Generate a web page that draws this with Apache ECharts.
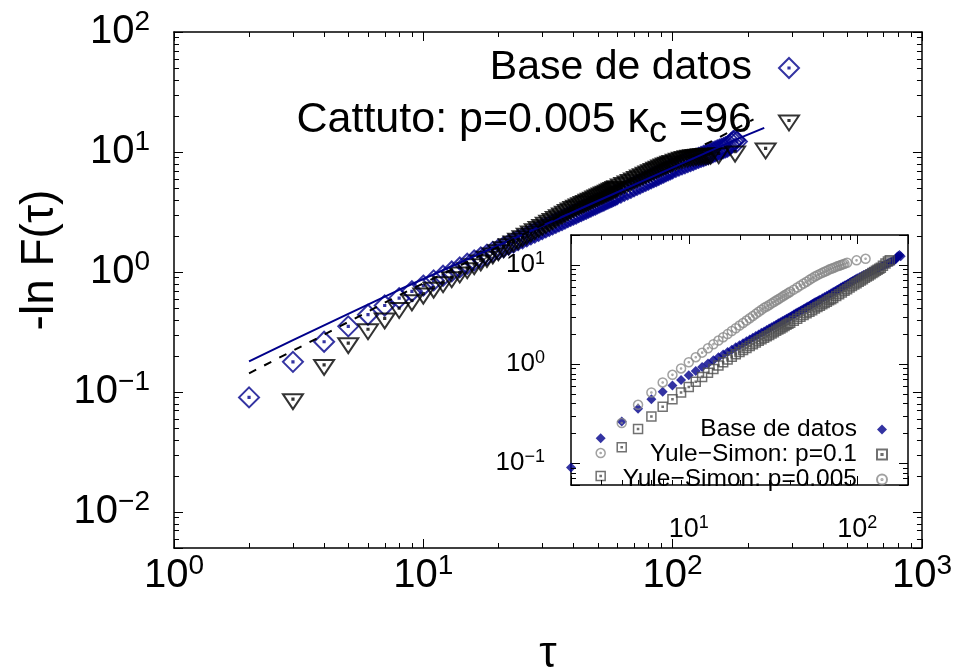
<!DOCTYPE html>
<html><head><meta charset="utf-8">
<script src="https://cdn.jsdelivr.net/npm/echarts@6/dist/echarts.min.js"></script>
<style>html,body{margin:0;padding:0;background:#fff}#c{width:955px;height:672px}</style>
</head><body><div id="c"></div><script>
// ---------- data ----------
const dbTau = [2,3,4,5,6,7,8,9,10,11,12,13,14,15,16,17,18,19,20,21,22,23,24,25,26,27,28,29,30,31,32,33,34,35,36,37,38,39,40,
  41,42,43,44,45,46,47,48,49,50,51,52,53,54,55,56,57,58,59,60,62,64,66,68,70,72,74,76,78,80,82,84,86,88,90,92,94,96,98,100,
  103,106,109,112,115,118,121,124,127,130,133,136,139,142,145,148,151,154,157,160,163,166,169,172,175,178,181];
const dbVal = [0.09,0.178,0.262,0.352,0.44,0.525,0.605,0.69,0.77,0.85,0.93,1.01,1.09,1.17,1.245,1.32,1.39,1.47,1.54,1.615,1.69,1.76,1.84,1.91,1.98,2.06,2.13,2.2,2.28,2.35,2.42,2.49,2.57,2.64,2.71,2.78,2.86,2.93,3.0,
  3.07,3.15,3.22,3.3,3.36,3.44,3.51,3.59,3.65,3.73,3.8,3.87,3.94,4.02,4.09,4.16,4.23,4.3,4.37,4.45,4.59,4.74,4.88,5.02,5.17,5.31,5.45,5.6,5.74,5.89,6.03,6.17,6.31,6.45,6.6,6.74,6.88,7.03,7.17,7.31,
  7.5,7.69,7.88,8.05,8.23,8.4,8.57,8.75,8.92,9.1,9.26,9.43,9.6,9.78,9.95,10.12,10.28,10.45,10.62,10.78,10.95,11.1,11.4,11.9,12.3,12.6,12.2];

const catTau = [3,4,5,6,7,8,9,10,11,12,13,14,15,16,17,18,19,20,21,22,23,24,25,26,27,28,29,30,31,32,33,34,35,36,37,38,39,40,
  41,42,43,44,45,46,47,48,49,50,51,52,53,54,55,56,57,58,59,60,62,64,66,68,70,72,74,76,78,80,82,84,86,88,90,92,94,96,98,100,
  103,106,109,112,115,118,121,124,127,130,133,136,139,142,153,178,236];
const catVal = [0.087,0.168,0.255,0.333,0.41,0.5,0.58,0.66,0.74,0.821,0.904,0.988,1.074,1.16,1.247,1.336,1.426,1.516,1.608,1.70,1.793,1.887,1.982,2.077,2.174,2.27,2.368,2.466,2.565,2.665,2.765,2.866,2.968,3.07,3.172,3.28,3.38,3.48,
  3.565,3.65,3.735,3.82,3.905,3.99,4.075,4.16,4.245,4.33,4.415,4.5,4.585,4.67,4.755,4.84,4.925,5.01,5.095,5.18,5.35,5.52,5.68,5.85,6.02,6.19,6.36,6.53,6.7,6.86,7.03,7.2,7.37,7.53,7.7,7.86,8.0,8.15,8.28,8.4,
  8.6,8.78,8.93,9.08,9.19,9.29,9.37,9.44,9.5,9.55,9.59,9.62,9.65,9.67,9.75,10.07,10.7];

const fitTau = [2,3,5,8,20,50,100,178,233];
const fitVal = [0.18,0.27,0.447,0.71,1.66,3.9,7.4,12.6,15.9];
const dashTau = [2,4,8,20,50,100,146,211];
const dashVal = [0.143,0.30,0.64,1.62,4.2,8.6,12.5,18.7];

const ys1Tau = [3,4,5,6,7,8,9,10,11,12,13,14,15,16,17,18,19,20,21,22,23,24,25,26,27,28,29,30,31,32,33,34,35,36,37,38,39,40,
  42,44,46,48,50,52,54,56,58,60,62,64,66,68,70,72,75,78,81,84,87,90,93,96,99,102,105,108,111,114,117,120,123,126,129,132,135,138,142,147,152,156];
const ys1Val = [0.074,0.144,0.22,0.295,0.37,0.44,0.515,0.585,0.66,0.74,0.815,0.89,0.965,1.04,1.11,1.18,1.25,1.32,1.385,1.45,1.514,1.58,1.643,1.71,1.772,1.84,1.9,1.96,2.03,2.09,2.156,2.22,2.284,2.35,2.41,2.48,2.54,2.6,
  2.73,2.86,2.99,3.11,3.24,3.37,3.49,3.62,3.75,3.87,4.0,4.13,4.25,4.38,4.5,4.63,4.84,5.05,5.26,5.47,5.68,5.89,6.1,6.32,6.53,6.74,6.96,7.17,7.39,7.61,7.82,8.04,8.26,8.48,8.7,8.92,9.14,9.36,9.8,10.3,10.8,11.1];

const ys2Tau = [3,4,5,6,7,8,9,10,11,12,13,14,15,16,17,18,19,20,21,22,23,24,25,26,27,28,29,30,31,32,33,34,35,36,37,38,39,40,
  42,44,46,48,50,52,54,56,58,60,62,64,66,68,70,72,74,76,78,80,82,84,87,99,112];
const ys2Val = [0.126,0.253,0.387,0.515,0.65,0.776,0.9,1.04,1.17,1.3,1.44,1.58,1.72,1.86,2.0,2.15,2.29,2.44,2.59,2.74,2.894,3.05,3.2,3.36,3.52,3.68,3.8,3.94,4.08,4.22,4.36,4.49,4.64,4.78,4.92,5.06,5.2,5.34,
  5.62,5.91,6.2,6.48,6.76,7.05,7.34,7.63,7.87,8.1,8.3,8.5,8.72,8.95,9.12,9.3,9.48,9.65,9.8,9.95,10.1,10.25,10.5,11.1,11.5];

const mainMinorX = [2,3,4,5,6,7,8,9,20,30,40,50,60,70,80,90,200,300,400,500,600,700,800,900];
const mainMinorY = [0.006,0.007,0.008,0.009,0.02,0.03,0.04,0.05,0.06,0.07,0.08,0.09,0.2,0.3,0.4,0.5,0.6,0.7,0.8,0.9,2,3,4,5,6,7,8,9,20,30,40,50,60,70,80,90];
const insetMinorX = [3,4,5,6,7,8,9,20,30,40,50,60,70,80,90];
const insetMinorY = [0.07,0.08,0.09,0.2,0.3,0.4,0.5,0.6,0.7,0.8,0.9,2,3,4,5,6,7,8,9];

const legendMain = ['Base de datos', 'Cattuto: p=0.005 κc =96'];
const legendInset = ['Base de datos ', 'Yule−Simon: p=0.1', 'Yule−Simon: p=0.005'];

// ---------- styling ----------
const FONT = "'Liberation Sans', Arial, Helvetica, sans-serif";
const NAVY = '#00008b';
const P_DIAMOND = 'path://M0,-1 L1,0 L0,1 L-1,0 Z M-0.06,-0.06 L0.06,-0.06 L0.06,0.06 L-0.06,0.06 Z';
const P_FDIAMOND = 'path://M0,-1 L1,0 L0,1 L-1,0 Z';
const P_TRI = 'path://M0,-1 M-1,-0.5 L1,-0.5 L0,1 Z M-0.06,-0.06 L0.06,-0.06 L0.06,0.06 L-0.06,0.06 Z';
const P_SQ = 'path://M-1,-1 L1,-1 L1,1 L-1,1 Z M-0.12,-0.12 L0.12,-0.12 L0.12,0.12 L-0.12,0.12 Z';
const P_CIR = 'path://M1,0 A1,1 0 1 1 -1,0 A1,1 0 1 1 1,0 Z M0.12,0 A0.12,0.12 0 1 1 -0.12,0 A0.12,0.12 0 1 1 0.12,0 Z';

function pow10Label(v) {
  const e = Math.log10(v);
  const r = Math.round(e);
  if (Math.abs(e - r) > 1e-6) return '';
  return '{b|10}{s|' + (r < 0 ? '−' + (-r) : r) + '}';
}
function labelStyle(fs, ss, lh, sl, margin) {
  return {
    show: true, margin: margin, color: '#000', fontFamily: FONT, fontSize: fs,
    formatter: pow10Label, showMinLabel: true, showMaxLabel: true,
    rich: {
      b: { fontFamily: FONT, fontSize: fs, lineHeight: lh, color: '#000' },
      s: { fontFamily: FONT, fontSize: ss, lineHeight: sl, verticalAlign: 'top', color: '#000' }
    }
  };
}
function logAxis(gridIndex, pos, min, max, label, tickLen) {
  return {
    type: 'log', logBase: 10, gridIndex, position: pos, min, max,
    axisLine: { show: true, onZero: false, lineStyle: { color: '#000', width: 1.5 } },
    axisTick: { show: true, inside: true, length: tickLen, lineStyle: { color: '#000', width: 1 } },
    axisLabel: label || { show: false },
    splitLine: { show: false }, minorTick: { show: false }
  };
}
function minorTicks(xi, yi, vals, dir, refOther, len) {
  return {
    type: 'custom', xAxisIndex: xi, yAxisIndex: yi, clip: false, silent: true, z: 5,
    data: vals.map(v => dir === 'x' ? [v, refOther] : [refOther, v]),
    renderItem: function (params, api) {
      const cs = params.coordSys;
      const p = api.coord([api.value(0), api.value(1)]);
      const st = { stroke: '#000', lineWidth: 1 };
      if (dir === 'x') {
        const x = Math.round(p[0]) + 0.5;
        return { type: 'group', children: [
          { type: 'line', shape: { x1: x, y1: cs.y + cs.height, x2: x, y2: cs.y + cs.height - len }, style: st },
          { type: 'line', shape: { x1: x, y1: cs.y, x2: x, y2: cs.y + len }, style: st }
        ]};
      }
      const y = Math.round(p[1]) + 0.5;
      return { type: 'group', children: [
        { type: 'line', shape: { x1: cs.x, y1: y, x2: cs.x + len, y2: y }, style: st },
        { type: 'line', shape: { x1: cs.x + cs.width, y1: y, x2: cs.x + cs.width - len, y2: y }, style: st }
      ]};
    }
  };
}
const zip = (a, b) => a.map((t, i) => [t, b[i]]);

const chart = echarts.init(document.getElementById('c'), null, { renderer: 'canvas' });
chart.setOption({
  animation: false,
  backgroundColor: '#fff',
  grid: [
    { left: 174, top: 32, width: 749, height: 516, show: false },
    { left: 571, top: 235, width: 337, height: 250, show: false }
  ],
  xAxis: [
    logAxis(0, 'bottom', 1, 1000, labelStyle(40, 28, 48, 24, 4), 9),
    logAxis(0, 'top', 1, 1000, null, 9),
    logAxis(1, 'bottom', 2, 200, labelStyle(27, 18, 32, 16, 29), 9),
    logAxis(1, 'top', 2, 200, null, 9)
  ],
  yAxis: [
    logAxis(0, 'left', 0.005, 100, labelStyle(40, 28, 48, 24, 24), 9),
    logAxis(0, 'right', 0.005, 100, null, 9),
    logAxis(1, 'left', 0.06, 20, labelStyle(26, 18, 30, 16, 26), 9),
    logAxis(1, 'right', 0.06, 20, null, 9)
  ],
  legend: [
    {
      data: legendMain, orient: 'vertical', align: 'right', right: 155, top: 47, padding: 0,
      itemGap: 10, itemWidth: 64, itemHeight: 20, selectedMode: false,
      itemStyle: { borderWidth: 2 },
      formatter: n => n.indexOf('κc') >= 0
        ? '{m|' + n.split('κc')[0] + 'κ}{sub|c}{m|' + n.split('κc')[1] + '}'
        : n,
      textStyle: { fontFamily: FONT, fontSize: 41, lineHeight: 42, color: '#000',
        rich: {
          m: { fontFamily: FONT, fontSize: 43, lineHeight: 42, color: '#000' },
          sub: { fontFamily: FONT, fontSize: 36, lineHeight: 10, verticalAlign: 'top', padding: [15, 0, 0, 0], color: '#000' }
        } }
    },
    {
      data: legendInset, orient: 'vertical', align: 'right', right: 67, top: 417, padding: 0,
      itemGap: 0, itemWidth: 40, itemHeight: 10, selectedMode: false,
      formatter: n => n.trim(),
      textStyle: { fontFamily: FONT, fontSize: 24.5, lineHeight: 20, color: '#000' }
    }
  ],
  graphic: [
    { type: 'text', x: 548, y: 655, style: { text: 'τ', font: "44px 'Liberation Sans', Arial, sans-serif", fill: '#000', textAlign: 'center', textVerticalAlign: 'middle' } },
    { type: 'text', x: 40, y: 260, rotation: Math.PI / 2, style: { text: '-ln F(τ)', font: "46px 'Liberation Sans', Arial, sans-serif", fill: '#000', textAlign: 'center', textVerticalAlign: 'middle' } }
  ],
  series: [
    minorTicks(0, 0, mainMinorX, 'x', 1, 5),
    minorTicks(0, 0, mainMinorY, 'y', 10, 5),
    minorTicks(2, 2, insetMinorX, 'x', 1, 5),
    minorTicks(2, 2, insetMinorY, 'y', 10, 5),
    { name: legendMain[0], type: 'scatter', xAxisIndex: 0, yAxisIndex: 0, data: zip(dbTau, dbVal),
      symbol: P_DIAMOND, symbolSize: 20, z: 2,
      itemStyle: { color: 'rgba(0,0,0,0)', borderColor: NAVY, borderWidth: 2 } },
    { name: legendMain[1], type: 'scatter', xAxisIndex: 0, yAxisIndex: 0, data: zip(catTau, catVal),
      symbol: P_TRI, symbolSize: 20, z: 3,
      itemStyle: { color: 'rgba(0,0,0,0)', borderColor: '#000', borderWidth: 2 } },
    { name: 'fit', type: 'line', xAxisIndex: 0, yAxisIndex: 0, data: zip(fitTau, fitVal), showSymbol: false, symbol: 'none', z: 4,
      lineStyle: { color: NAVY, width: 2 } },
    { name: 'fitDash', type: 'line', xAxisIndex: 0, yAxisIndex: 0, data: zip(dashTau, dashVal), showSymbol: false, symbol: 'none', z: 4,
      lineStyle: { color: '#000', width: 2, type: [8, 9] } },
    { name: legendInset[0], type: 'scatter', xAxisIndex: 2, yAxisIndex: 2, data: zip(dbTau, dbVal),
      symbol: P_FDIAMOND, symbolSize: 10, z: 2, itemStyle: { color: NAVY } },
    { name: legendInset[1], type: 'scatter', xAxisIndex: 2, yAxisIndex: 2, data: zip(ys1Tau, ys1Val),
      symbol: P_SQ, symbolSize: 9, z: 3,
      itemStyle: { color: 'rgba(0,0,0,0)', borderColor: '#4d4d4d', borderWidth: 1.5 } },
    { name: legendInset[2], type: 'scatter', xAxisIndex: 2, yAxisIndex: 2, data: zip(ys2Tau, ys2Val),
      symbol: P_CIR, symbolSize: 9, z: 3,
      itemStyle: { color: 'rgba(0,0,0,0)', borderColor: '#8a8a8a', borderWidth: 1.5 } }
  ]
});
</script></body></html>
